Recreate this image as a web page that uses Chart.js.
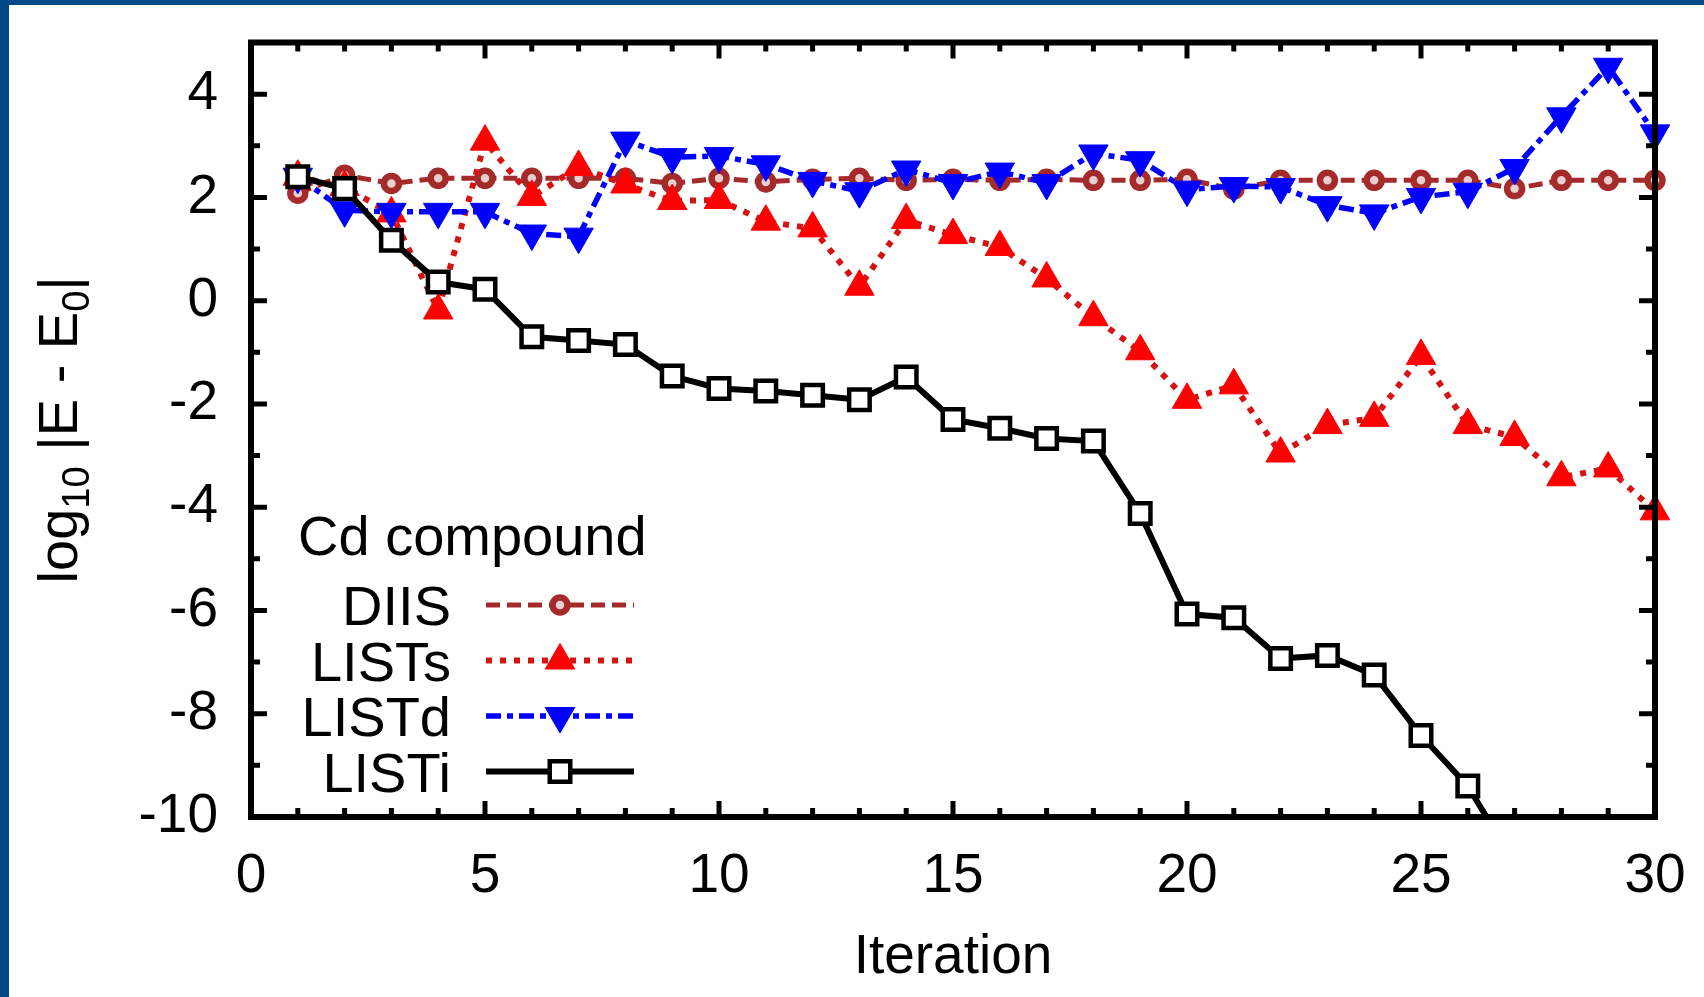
<!DOCTYPE html>
<html lang="en">
<head>
    <meta charset="UTF-8">
    <title>Cd compound convergence</title>
    <script src="https://cdn.jsdelivr.net/npm/chart.js"></script>
    <style>
        body {
            margin: 0;
            padding: 0;
            background-color: #004888;
            overflow: hidden;
        }
        .plot-box {
            position: absolute;
            left: 9px;
            top: 5px;
            width: 1695px;
            height: 992px;
            background-color: #fff;
        }
    </style>
</head>
<body>
<div class="plot-box">
    <canvas id="convChart" width="1695" height="992"></canvas>
</div>
<script>
    // values
    const iterations = [1, 2, 3, 4, 5, 6, 7, 8, 9, 10, 11, 12, 13, 14, 15,
        16, 17, 18, 19, 20, 21, 22, 23, 24, 25, 26, 27, 28, 29, 30];

    const diis = [2.08, 2.43, 2.27, 2.37, 2.37, 2.37, 2.37, 2.37, 2.27, 2.37,
        2.30, 2.35, 2.37, 2.33, 2.35, 2.33, 2.35, 2.33, 2.33, 2.35,
        2.16, 2.33, 2.33, 2.33, 2.33, 2.33, 2.17, 2.33, 2.33, 2.33];

    const listS = [2.40, 2.20, 1.69, -0.19, 3.08, 2.01, 2.59, 2.25, 1.93, 1.95,
        1.53, 1.40, 0.27, 1.56, 1.27, 1.04, 0.43, -0.32, -0.98, -1.92,
        -1.64, -2.96, -2.41, -2.27, -1.07, -2.41, -2.64, -3.42, -3.25, -4.08];

    const listD = [2.40, 1.75, 1.72, 1.72, 1.72, 1.30, 1.24, 3.10, 2.78, 2.80,
        2.64, 2.32, 2.12, 2.54, 2.28, 2.50, 2.28, 2.85, 2.72, 2.15,
        2.22, 2.20, 1.85, 1.69, 2.01, 2.11, 2.57, 3.57, 4.53, 3.24];

    const listI = [2.40, 2.17, 1.17, 0.36, 0.22, -0.70, -0.77, -0.85, -1.46, -1.70,
        -1.75, -1.83, -1.92, -1.48, -2.30, -2.47, -2.67, -2.72, -4.12, -6.07,
        -6.14, -6.93, -6.87, -7.25, -8.42, -9.40, -10.9];

    const xTicks = [0, 5, 10, 15, 20, 25, 30];
    const yTicks = [-10, -8, -6, -4, -2, 0, 2, 4];

    const FONT = '"Liberation Sans", Arial, Helvetica, sans-serif';

    function points(ys) {
        return ys.map((y, i) => ({ x: iterations[i], y: y }));
    }

    // frame with inward ticks on all four sides, like the gnuplot original
    const framePlugin = {
        id: 'frame',
        afterDatasetsDraw(chart) {
            const { ctx, chartArea: a, scales } = chart;
            const xs = scales.x, ys = scales.y;
            ctx.save();
            ctx.strokeStyle = '#000';
            ctx.lineWidth = 5;
            ctx.lineCap = 'butt';
            ctx.beginPath();
            for (let v = xs.min + 1; v < xs.max; v++) {
                const len = v % 5 === 0 ? 16 : 9;
                const px = xs.getPixelForValue(v);
                ctx.moveTo(px, a.bottom); ctx.lineTo(px, a.bottom - len);
                ctx.moveTo(px, a.top); ctx.lineTo(px, a.top + len);
            }
            for (let v = ys.min + 1; v < ys.max; v++) {
                const len = (v - ys.min) % 2 === 0 ? 16 : 9;
                const py = ys.getPixelForValue(v);
                ctx.moveTo(a.left, py); ctx.lineTo(a.left + len, py);
                ctx.moveTo(a.right, py); ctx.lineTo(a.right - len, py);
            }
            ctx.stroke();
            ctx.lineWidth = 6;
            ctx.strokeRect(a.left, a.top, a.right - a.left, a.bottom - a.top);
            ctx.restore();
        }
    };

    // y title with real subscripts
    const yTitlePlugin = {
        id: 'yTitle',
        afterDraw(chart) {
            const ctx = chart.ctx;
            const a = chart.chartArea;
            const parts = [
                ['log', 56, 0], ['10', 38, 12], [' |E - E', 56, 0], ['0', 38, 12], ['|', 56, 0]
            ];
            ctx.save();
            ctx.translate(68, (a.top + a.bottom) / 2);
            ctx.rotate(-Math.PI / 2);
            ctx.fillStyle = '#000';
            ctx.textBaseline = 'alphabetic';
            ctx.textAlign = 'left';
            let total = 0;
            parts.forEach(p => { ctx.font = p[1] + 'px ' + FONT; total += ctx.measureText(p[0]).width; });
            let x = -total / 2;
            parts.forEach(p => {
                ctx.font = p[1] + 'px ' + FONT;
                ctx.fillText(p[0], x, p[2]);
                x += ctx.measureText(p[0]).width;
            });
            ctx.restore();
        }
    };

    // key in the gnuplot layout: title, right-aligned names, sample line after
    const keyPlugin = {
        id: 'key',
        afterDraw(chart) {
            const ctx = chart.ctx;
            ctx.save();
            ctx.fillStyle = '#000';
            ctx.font = '56px ' + FONT;
            ctx.textAlign = 'left';
            ctx.textBaseline = 'alphabetic';
            ctx.fillText('Cd compound', 289, 550);
            const keyOrder = [3, 2, 1, 0];
            keyOrder.forEach((di, row) => {
                const ds = chart.data.datasets[di];
                const cy = 600 + row * 55.5;
                ctx.fillStyle = '#000';
                ctx.textAlign = 'right';
                ctx.fillText(ds.label, 442, cy + 20);
                ctx.save();
                ctx.strokeStyle = ds.borderColor;
                ctx.lineWidth = ds.borderWidth;
                ctx.setLineDash(ds.borderDash || []);
                ctx.beginPath();
                ctx.moveTo(477, cy);
                ctx.lineTo(625, cy);
                ctx.stroke();
                ctx.restore();
                ctx.save();
                ctx.strokeStyle = ds.pointBorderColor;
                ctx.fillStyle = ds.pointBackgroundColor;
                ctx.lineWidth = ds.pointBorderWidth;
                Chart.helpers.drawPoint(ctx, {
                    pointStyle: ds.pointStyle,
                    rotation: ds.pointRotation || 0,
                    radius: ds.pointRadius,
                    borderWidth: ds.pointBorderWidth
                }, 551, cy);
                ctx.restore();
            });
            ctx.restore();
        }
    };

    const clipBox = { left: 30, top: 30, right: 30, bottom: 0 };

    const ctx = document.getElementById('convChart').getContext('2d');
    const convChart = new Chart(ctx, {
        type: 'line',
        data: {
            datasets: [
                {
                    label: 'LISTi',
                    data: points(listI),
                    borderColor: '#000',
                    borderWidth: 6,
                    pointStyle: 'rect',
                    pointRadius: 14.5,
                    pointBorderWidth: 4.5,
                    pointBorderColor: '#000',
                    pointBackgroundColor: '#fff',
                    clip: clipBox,
                    order: 0
                },
                {
                    label: 'LISTd',
                    data: points(listD),
                    borderColor: '#0000ff',
                    borderWidth: 5.5,
                    borderDash: [15, 6, 6, 6],
                    pointStyle: 'triangle',
                    pointRotation: 180,
                    pointRadius: 17,
                    pointBorderWidth: 1,
                    pointBorderColor: '#0000ff',
                    pointBackgroundColor: '#0000ff',
                    clip: clipBox,
                    order: 1
                },
                {
                    label: 'LISTs',
                    data: points(listS),
                    borderColor: '#d41414',
                    borderWidth: 6,
                    borderDash: [6, 8],
                    pointStyle: 'triangle',
                    pointRadius: 17,
                    pointBorderWidth: 1,
                    pointBorderColor: '#ff0000',
                    pointBackgroundColor: '#ff0000',
                    clip: clipBox,
                    order: 2
                },
                {
                    label: 'DIIS',
                    data: points(diis),
                    borderColor: '#a52a2a',
                    borderWidth: 5,
                    borderDash: [14, 7],
                    pointStyle: 'circle',
                    pointRadius: 7.5,
                    pointBorderWidth: 6.5,
                    pointBorderColor: '#a52a2a',
                    pointBackgroundColor: '#e8d0d0',
                    clip: clipBox,
                    order: 3
                }
            ]
        },
        options: {
            responsive: false,
            animation: false,
            events: [],
            layout: {
                padding: { top: 37.5, right: 49, bottom: 0, left: 0 }
            },
            elements: {
                line: { tension: 0 }
            },
            scales: {
                x: {
                    type: 'linear',
                    min: 0,
                    max: 30,
                    afterBuildTicks: s => { s.ticks = xTicks.map(v => ({ value: v })); },
                    afterFit: s => { s.height = 180; s.paddingLeft = 0; s.paddingRight = 0; },
                    grid: { display: false, drawTicks: false },
                    border: { display: false },
                    ticks: {
                        color: '#000',
                        padding: 27,
                        maxRotation: 0,
                        font: { family: FONT, size: 55 }
                    },
                    title: {
                        display: true,
                        text: 'Iteration',
                        color: '#000',
                        padding: { top: 0, bottom: 6 },
                        font: { family: FONT, size: 55 }
                    }
                },
                y: {
                    type: 'linear',
                    min: -10,
                    max: 5,
                    afterBuildTicks: s => { s.ticks = yTicks.map(v => ({ value: v })); },
                    afterFit: s => { s.width = 242; s.paddingTop = 0; s.paddingBottom = 0; },
                    grid: { display: false, drawTicks: false },
                    border: { display: false },
                    ticks: {
                        color: '#000',
                        padding: 33,
                        font: { family: FONT, size: 55 }
                    }
                }
            },
            plugins: {
                legend: { display: false },
                tooltip: { enabled: false }
            }
        },
        plugins: [framePlugin, yTitlePlugin, keyPlugin]
    });
</script>
</body>
</html>
